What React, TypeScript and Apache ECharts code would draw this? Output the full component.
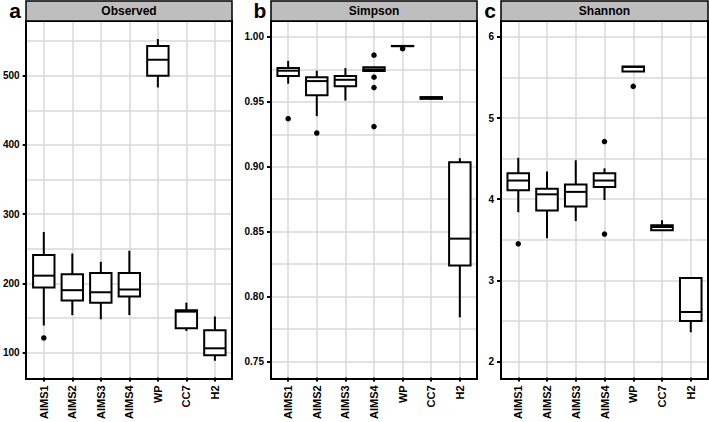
import React, { useEffect, useRef } from "react";
import * as echarts from "echarts";

const categories = ["AIMS1", "AIMS2", "AIMS3", "AIMS4", "WP", "CC7", "H2"];
const panelTitles = ["Observed", "Simpson", "Shannon"];
const panelLetters = ["a", "b", "c"];

// [min, Q1, median, Q3, max] per category
const observedBoxes = [
  [139, 194, 211, 241, 274],
  [154, 175, 190, 213, 243],
  [148, 172, 187, 215, 231],
  [154, 181, 191, 215, 247],
  [483, 500, 523, 543, 553],
  [131, 135, 159, 161, 172],
  [88, 96, 106, 132, 152],
];
const observedOutliers = [[1, 121]];

const simpsonBoxes = [
  [0.964, 0.97, 0.974, 0.976, 0.9816],
  [0.939, 0.955, 0.966, 0.969, 0.974],
  [0.951, 0.962, 0.967, 0.97, 0.976],
  [0.973, 0.9737, 0.975, 0.9767, 0.977],
  [0.9929, 0.9929, 0.993, 0.9931, 0.9931],
  [0.952, 0.9523, 0.953, 0.9537, 0.954],
  [0.784, 0.824, 0.8446, 0.9035, 0.9066],
];
const simpsonOutliers = [
  [1, 0.937],
  [2, 0.926],
  [4, 0.986],
  [4, 0.969],
  [4, 0.961],
  [4, 0.931],
  [5, 0.991],
];

const shannonBoxes = [
  [3.84, 4.11, 4.23, 4.32, 4.51],
  [3.52, 3.86, 4.06, 4.13, 4.34],
  [3.73, 3.91, 4.09, 4.18, 4.48],
  [3.99, 4.15, 4.23, 4.32, 4.38],
  [5.574, 5.574, 5.63, 5.636, 5.636],
  [3.61, 3.616, 3.657, 3.68, 3.739],
  [2.36, 2.5, 2.61, 3.03, 3.03],
];
const shannonOutliers = [
  [1, 3.45],
  [4, 4.71],
  [4, 3.57],
  [5, 5.39],
];

const observedTicks = [100, 200, 300, 400, 500];
const observedMinor = [150, 250, 350, 450, 550];
const simpsonTicks = [0.75, 0.8, 0.85, 0.9, 0.95, 1.0];
const simpsonMinor = [0.775, 0.825, 0.875, 0.925, 0.975];
const shannonTicks = [2, 3, 4, 5, 6];
const shannonMinor = [2.5, 3.5, 4.5, 5.5];

const yRanges = [
  [64, 579],
  [0.7377, 1.0123],
  [1.804, 6.196],
];
const categoryPositions = categories.map((_, i) => i + 1);

const FONT = "'Liberation Sans', Arial, sans-serif";
const NARROW = "'Liberation Sans Narrow', 'Liberation Sans', Arial, sans-serif";
const GRID_COLOR = "#D9D9D9";

function renderBox(params: any, api: any) {
  const x = api.value(0);
  const lo = api.coord([x, api.value(1)]);
  const q1 = api.coord([x, api.value(2)]);
  const med = api.coord([x, api.value(3)]);
  const q3 = api.coord([x, api.value(4)]);
  const hi = api.coord([x, api.value(5)]);
  const half = api.size([0.75, 0])[0] / 2;
  const stroke = { stroke: "#000", lineWidth: 2, fill: "none" };
  return {
    type: "group",
    children: [
      { type: "line", shape: { x1: lo[0], y1: lo[1], x2: q1[0], y2: q1[1] }, style: stroke },
      { type: "line", shape: { x1: q3[0], y1: q3[1], x2: hi[0], y2: hi[1] }, style: stroke },
      {
        type: "rect",
        shape: { x: q3[0] - half, y: q3[1], width: half * 2, height: q1[1] - q3[1] },
        style: { fill: "#fff", stroke: "#000", lineWidth: 2 },
      },
      {
        type: "line",
        shape: { x1: med[0] - half, y1: med[1], x2: med[0] + half, y2: med[1] },
        style: stroke,
      },
    ],
  };
}

export default function App() {
  const ref = useRef<HTMLDivElement>(null);
  useEffect(() => {
    document.body.style.margin = "0";
    if (!ref.current) return;
    const chart = echarts.init(ref.current, null, { renderer: "svg" });

    const grids = [
      { left: 26, top: 21, width: 206, height: 358 },
      { left: 271, top: 21, width: 206, height: 358 },
      { left: 501, top: 21, width: 207, height: 358 },
    ];
    const ticks = [observedTicks, simpsonTicks, shannonTicks];
    const minors = [observedMinor, simpsonMinor, shannonMinor];
    const boxes = [observedBoxes, simpsonBoxes, shannonBoxes];
    const outliers = [observedOutliers, simpsonOutliers, shannonOutliers];
    const fmts = [
      (v: number) => String(Math.round(v)),
      (v: number) => v.toFixed(2),
      (v: number) => String(Math.round(v)),
    ];

    const xAxis: any[] = [];
    const yAxis: any[] = [];
    const series: any[] = [];
    const graphic: any[] = [];

    grids.forEach((g, i) => {
      xAxis.push({
        gridIndex: i,
        type: "value",
        min: 0.4,
        max: 7.6,
        axisLine: { show: false },
        axisTick: {
          show: true,
          length: 4,
          customValues: categoryPositions,
          lineStyle: { color: "#000", width: 2 },
        },
        axisLabel: {
          customValues: categoryPositions,
          rotate: 90,
          margin: 8,
          color: "#000",
          fontFamily: FONT,
          fontWeight: "bold",
          fontSize: 11,
          formatter: (v: number) => categories[Math.round(v) - 1],
        },
        splitLine: { show: true, lineStyle: { color: GRID_COLOR, width: 1.5 } },
      });
      yAxis.push({
        gridIndex: i,
        type: "value",
        min: yRanges[i][0],
        max: yRanges[i][1],
        axisLine: { show: false },
        axisTick: {
          show: true,
          length: 4,
          customValues: ticks[i],
          lineStyle: { color: "#000", width: 2 },
        },
        axisLabel: {
          customValues: ticks[i],
          margin: 7,
          color: "#000",
          fontFamily: FONT,
          fontWeight: "bold",
          fontSize: 10,
          formatter: fmts[i],
        },
        splitLine: { show: true, lineStyle: { color: GRID_COLOR, width: 1.5 } },
      });
    });
    grids.forEach((g, i) => {
      yAxis.push({
        gridIndex: i,
        type: "value",
        position: "left",
        min: yRanges[i][0],
        max: yRanges[i][1],
        axisLine: { show: false },
        axisTick: { show: false, customValues: minors[i] },
        axisLabel: { show: false, customValues: minors[i] },
        splitLine: { show: true, lineStyle: { color: GRID_COLOR, width: 1.5 } },
      });
    });

    grids.forEach((g, i) => {
      series.push({
        type: "custom",
        xAxisIndex: i,
        yAxisIndex: i,
        dimensions: ["x", "min", "q1", "med", "q3", "max"],
        encode: { x: 0, y: [1, 2, 3, 4, 5] },
        data: boxes[i].map((b, k) => [categoryPositions[k], ...b]),
        renderItem: renderBox,
        z: 3,
        silent: true,
      });
      series.push({
        type: "scatter",
        xAxisIndex: i,
        yAxisIndex: i,
        data: outliers[i],
        symbolSize: 5.5,
        itemStyle: { color: "#000", opacity: 1 },
        z: 4,
        silent: true,
      });

      graphic.push({
        type: "rect",
        z: 100,
        shape: { x: g.left, y: g.top, width: g.width, height: g.height },
        style: { fill: "none", stroke: "#000", lineWidth: 2 },
        silent: true,
      });
      graphic.push({
        type: "rect",
        z: 100,
        shape: { x: g.left, y: 1, width: g.width, height: g.top - 1 },
        style: { fill: "#BEBEBE", stroke: "#000", lineWidth: 1.5 },
        silent: true,
      });
      graphic.push({
        type: "text",
        z: 101,
        x: g.left + g.width / 2,
        y: 11,
        style: {
          text: panelTitles[i],
          fill: "#000",
          font: `bold 12px ${FONT}`,
          textAlign: "center",
          textVerticalAlign: "middle",
        },
        silent: true,
      });
      graphic.push({
        type: "text",
        z: 101,
        x: g.left - 11,
        y: 10,
        style: {
          text: panelLetters[i],
          fill: "#000",
          font: `bold 21px ${NARROW}`,
          textAlign: "center",
          textVerticalAlign: "middle",
        },
        silent: true,
      });
    });

    chart.setOption({
      animation: false,
      backgroundColor: "#fff",
      grid: grids.map((g) => ({ ...g, containLabel: false, show: false })),
      xAxis,
      yAxis,
      series,
      graphic,
    });
    return () => chart.dispose();
  }, []);
  return (
    <div
      ref={ref}
      style={{ position: "fixed", left: 0, top: 0, width: 709, height: 422 }}
    />
  );
}
